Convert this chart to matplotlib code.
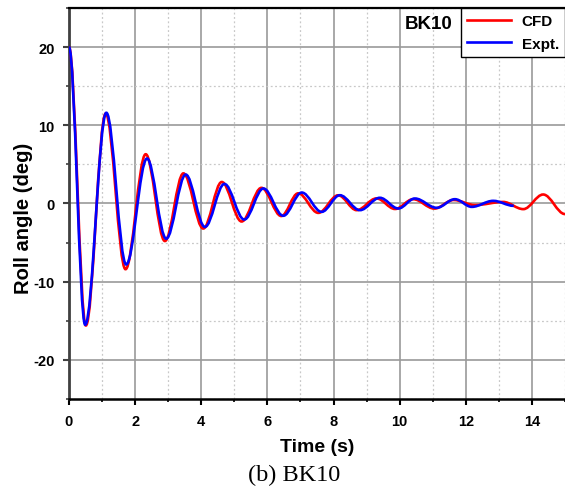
import matplotlib
matplotlib.use("Agg")
import matplotlib.pyplot as plt
from matplotlib.path import Path
from matplotlib.patches import PathPatch
from matplotlib.lines import Line2D
from matplotlib.ticker import MultipleLocator

# turning points (time, roll angle)
cfd_t = [0, 0.51, 1.11, 1.71, 2.32, 2.90, 3.46, 4.06, 4.62, 5.22, 5.82, 6.42, 6.93,
         7.54, 8.14, 8.70, 9.30, 9.86, 10.41, 11.05, 11.63, 12.28, 13.13, 13.74,
         14.34, 15.0]
cfd_y = [20, -15.6, 11.5, -8.4, 6.3, -4.8, 3.85, -3.2, 2.75, -2.3, 2.0, -1.6, 1.3,
         -1.2, 1.05, -0.85, 0.65, -0.7, 0.55, -0.65, 0.45, -0.2, 0.2, -0.72,
         1.15, -1.35]

expt_t = [0, 0.49, 1.13, 1.73, 2.36, 2.94, 3.53, 4.11, 4.70, 5.30, 5.88, 6.48, 7.04,
          7.64, 8.19, 8.80, 9.40, 9.96, 10.46, 11.12, 11.67, 12.18, 12.83, 13.45]
expt_y = [20, -15.5, 11.6, -7.8, 5.75, -4.5, 3.7, -3.0, 2.5, -2.05, 1.92, -1.57, 1.4,
          -1.07, 1.06, -0.85, 0.73, -0.64, 0.64, -0.55, 0.55, -0.43, 0.34, -0.3]

series = [("CFD", cfd_t, cfd_y, "#ff0000"), ("Expt.", expt_t, expt_y, "#0000ff")]

plt.rcParams['font.family'] = ['Liberation Sans', 'DejaVu Sans']
plt.rcParams['font.weight'] = 'bold'
plt.rcParams['axes.unicode_minus'] = False

fig = plt.figure(figsize=(5.65, 4.89), dpi=100)
ax = fig.add_axes([0.1221, 0.182, 0.8779, 0.7996])


def smooth_path(t, y, k=0.36):
    # cubic bezier through the turning points, flat tangents at each one
    verts = [(t[0], y[0])]
    codes = [Path.MOVETO]
    for i in range(1, len(t)):
        dt = t[i] - t[i - 1]
        verts += [(t[i - 1] + k * dt, y[i - 1]), (t[i] - k * dt, y[i]), (t[i], y[i])]
        codes += [Path.CURVE4] * 3
    return Path(verts, codes)


handles = []
for name, t, y, col in series:
    ax.add_patch(PathPatch(smooth_path(t, y), fill=False, edgecolor=col, lw=1.9,
                           zorder=3))
    handles.append(Line2D([], [], color=col, lw=1.9, label=name))

ax.set_xlim(0, 15)
ax.set_ylim(-25, 25)
ax.xaxis.set_major_locator(MultipleLocator(2))
ax.xaxis.set_minor_locator(MultipleLocator(1))
ax.yaxis.set_major_locator(MultipleLocator(10))
ax.yaxis.set_minor_locator(MultipleLocator(5))

ax.grid(which='major', color='#9a9a9a', lw=1.2, ls='-')
ax.grid(which='minor', color='#c8c8c8', lw=0.9, ls=(0, (1.5, 2)))
ax.set_axisbelow(True)

ax.tick_params(which='major', direction='out', length=4.5, width=1.5, labelsize=10.5,
               colors='black', pad=6)
ax.tick_params(which='minor', direction='out', length=2.5, width=1.2)
ax.tick_params(axis='y', which='both', color='#404040')
for lab in ax.get_xticklabels() + ax.get_yticklabels():
    lab.set_fontweight('bold')

ax.spines['right'].set_visible(False)
ax.spines['left'].set_color('#404040')
ax.spines['left'].set_linewidth(2)
ax.spines['bottom'].set_linewidth(1.8)
ax.spines['top'].set_linewidth(1.6)

ax.set_xlabel('Time (s)', fontsize=14, fontweight='bold')
ax.set_ylabel('Roll angle (deg)', fontsize=14.5, fontweight='bold')
ax.xaxis.set_label_coords(0.5, -0.0997)
ax.yaxis.set_label_coords(-0.0726, 0.464)

leg = ax.legend(handles=handles, loc='upper right', fontsize=11, frameon=True,
                fancybox=False, edgecolor='black', framealpha=1, borderaxespad=0,
                handlelength=2.9, borderpad=0.4, labelspacing=0.55,
                handletextpad=0.7)
leg.get_frame().set_linewidth(1.0)
for txt in leg.get_texts():
    txt.set_fontweight('bold')

ax.text(0.774, 0.961, 'BK10', transform=ax.transAxes, fontsize=13.5,
        fontweight='bold', ha='right', va='center')

fig.text(0.521, 0.016, '(b) BK10', fontsize=17.5, family='Liberation Serif',
         fontweight='normal', ha='center', va='baseline')

fig.savefig('out.png', dpi=100)
